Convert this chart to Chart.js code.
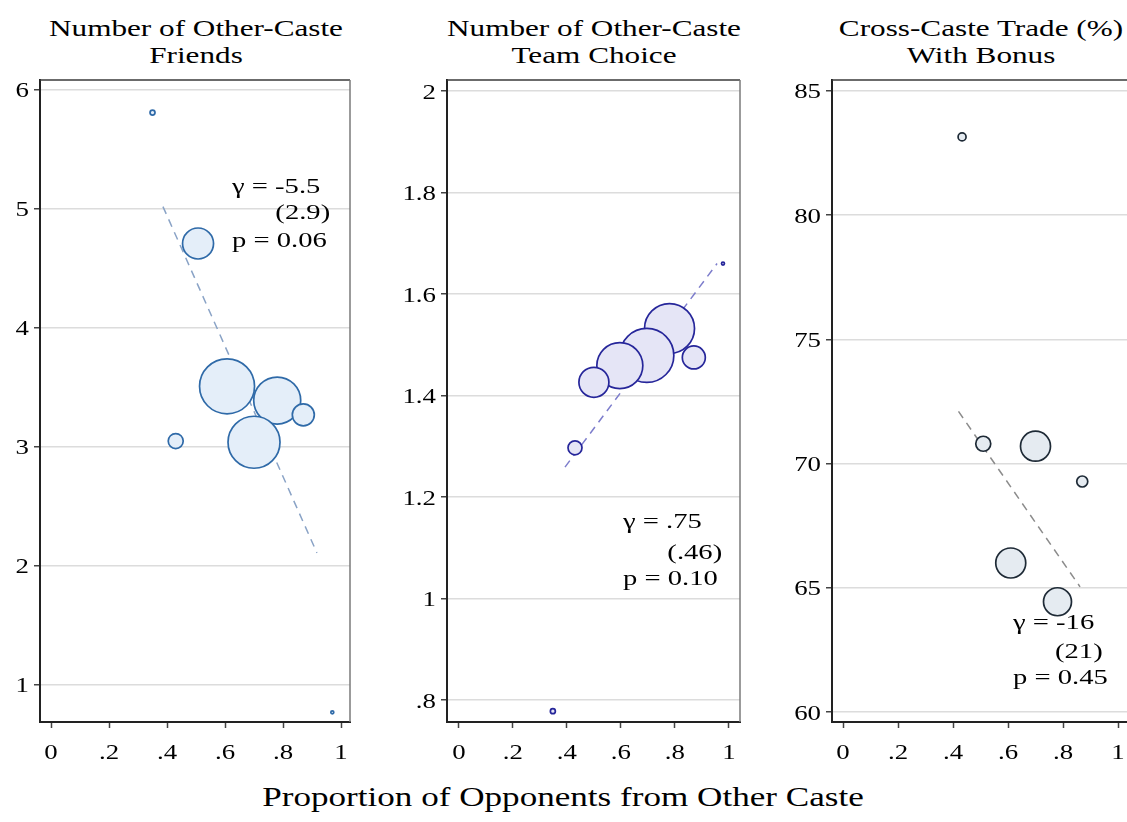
<!DOCTYPE html>
<html>
<head>
<meta charset="utf-8">
<script src="https://cdn.jsdelivr.net/npm/chart.js@4.4.0/dist/chart.umd.min.js"></script>
<style>
  html, body { margin: 0; padding: 0; background: #fff; }
  #wrap { position: relative; width: 1127px; height: 822px; overflow: hidden; background: #fff; }
  .panel { position: absolute; top: 70px; height: 697px; }
  .txt { position: absolute; font-family: "Liberation Serif", "Times New Roman", serif; color: #000; white-space: nowrap; line-height: 1; }
  .ttl { font-size: 24px; line-height: 27px; text-align: center; top: 15px; transform: translateX(-50%) scaleX(1.3); }
  .ann { font-size: 22px; transform-origin: left center; transform: scaleX(1.3); }
  .annR { font-size: 22px; transform-origin: right center; transform: scaleX(1.3); }
  .xlab { font-size: 27px; top: 784px; left: 563px; transform: translateX(-50%) scaleX(1.3); }
</style>
</head>
<body>
<div id="wrap">
  <div class="txt ttl" style="left:196px">Number of Other-Caste<br>Friends</div>
  <div class="txt ttl" style="left:594px">Number of Other-Caste<br>Team Choice</div>
  <div class="txt ttl" style="left:981px">Cross-Caste Trade (%)<br>With Bonus</div>

  <div class="panel" style="left:0;width:360px"><canvas id="chartFriends"></canvas></div>
  <div class="panel" style="left:385px;width:365px"><canvas id="chartTeam"></canvas></div>
  <div class="panel" style="left:772px;width:367px"><canvas id="chartTrade"></canvas></div>

  <div class="txt ann"  style="left:232px;top:175px">γ = -5.5</div>
  <div class="txt annR" style="right:797px;top:201px">(2.9)</div>
  <div class="txt ann"  style="left:232px;top:229px">p = 0.06</div>

  <div class="txt ann"  style="left:623px;top:510px">γ = .75</div>
  <div class="txt annR" style="right:405px;top:541px">(.46)</div>
  <div class="txt ann"  style="left:623px;top:567px">p = 0.10</div>

  <div class="txt ann"  style="left:1013px;top:611px">γ = -16</div>
  <div class="txt annR" style="right:24px;top:640px">(21)</div>
  <div class="txt ann"  style="left:1013px;top:666px">p = 0.45</div>

  <div class="txt xlab">Proportion of Opponents from Other Caste</div>
</div>

<script>
// ── Data ──
const xTicks = [0, 0.2, 0.4, 0.6, 0.8, 1];

// Panel 1: friends
const friendsX    = [0.35, 0.507, 0.607, 0.78, 0.87, 0.70, 0.43, 0.97];
const friendsY    = [5.81, 4.71, 3.51, 3.39, 3.27, 3.04, 3.05, 0.77];
const friendsSize = [2.5, 15.5, 27.5, 23.5, 11, 26, 7.5, 1.5];
const friendsFitX = [0.386, 0.917];
const friendsFitY = [5.02, 2.11];
const friendsTicks = [1, 2, 3, 4, 5, 6];

// Panel 2: team choice
const teamX    = [0.978, 0.78, 0.87, 0.696, 0.596, 0.50, 0.43, 0.348];
const teamY    = [1.66, 1.532, 1.475, 1.479, 1.459, 1.426, 1.297, 0.778];
const teamSize = [1.5, 25, 11.5, 27, 23, 15, 7, 2.5];
const teamFitX = [0.393, 0.956];
const teamFitY = [1.259, 1.66];
const teamTicks = [0.8, 1, 1.2, 1.4, 1.6, 1.8, 2];

// Panel 3: trade with bonus
const tradeX    = [0.433, 0.51, 0.70, 0.87, 0.61, 0.78];
const tradeY    = [83.15, 70.8, 70.7, 69.28, 66.0, 64.44];
const tradeSize = [4, 7.5, 15, 5.5, 15, 14];
const tradeFitX = [0.42, 0.862];
const tradeFitY = [72.1, 65.04];
const tradeTicks = [60, 65, 70, 75, 80, 85];

// ── Helpers ──
const STRETCH = 1.22;
function fmt(v) {
  return String(+v.toFixed(2)).replace(/^0\./, '.').replace(/^-0\./, '-.');
}
function zipPts(xs, ys, rs) {
  return xs.map((x, i) => rs ? { x, y: ys[i], r: rs[i] } : { x, y: ys[i] });
}
function stretchText(ctx, text, x, y, align) {
  ctx.save();
  ctx.translate(x, y);
  ctx.scale(STRETCH, 1);
  ctx.textAlign = align;
  ctx.fillText(text, 0, 0);
  ctx.restore();
}

// ── Plugins: top/right frame + stretched serif tick labels ──
const framePlugin = {
  id: 'frame',
  afterDatasetsDraw(chart) {
    const { ctx, chartArea: a } = chart;
    ctx.save();
    ctx.lineWidth = 1.5;
    ctx.strokeStyle = '#3a3a3a';
    ctx.beginPath(); ctx.moveTo(a.left, a.top); ctx.lineTo(a.right, a.top); ctx.stroke();
    ctx.strokeStyle = '#7a7a7a';
    ctx.beginPath(); ctx.moveTo(a.right, a.top); ctx.lineTo(a.right, a.bottom); ctx.stroke();
    ctx.restore();
  }
};
const tickLabelPlugin = {
  id: 'tickLabels',
  afterDraw(chart) {
    const { ctx, chartArea: a } = chart;
    const xs = chart.scales.x, ys = chart.scales.y;
    ctx.save();
    ctx.fillStyle = '#000';
    ctx.font = '22px "Liberation Serif", "Times New Roman", serif';
    ctx.textBaseline = 'alphabetic';
    xs.ticks.forEach(t => stretchText(ctx, fmt(t.value), xs.getPixelForValue(t.value), a.bottom + 37, 'center'));
    ys.ticks.forEach(t => stretchText(ctx, fmt(t.value), a.left - 11, ys.getPixelForValue(t.value) + 7.5, 'right'));
    ctx.restore();
  }
};

// ── Panel builder ──
function makePanel(canvasId, p) {
  return new Chart(document.getElementById(canvasId).getContext('2d'), {
    type: 'bubble',
    data: {
      datasets: [
        {
          type: 'line',
          data: zipPts(p.fitX, p.fitY),
          borderColor: p.lineColor,
          borderWidth: 1.5,
          borderDash: [8, 6],
          pointRadius: 0,
          fill: false,
          order: 2
        },
        {
          data: zipPts(p.x, p.y, p.size),
          backgroundColor: p.fill,
          borderColor: p.stroke,
          borderWidth: 1.7,
          order: 1
        }
      ]
    },
    options: {
      responsive: true,
      maintainAspectRatio: false,
      animation: false,
      events: [],
      layout: { autoPadding: false, padding: { top: 10, right: 10, left: 0, bottom: 0 } },
      plugins: { legend: { display: false }, tooltip: { enabled: false } },
      scales: {
        x: {
          type: 'linear',
          min: p.xMin, max: p.xMax,
          afterBuildTicks: s => { s.ticks = xTicks.map(v => ({ value: v })); },
          afterFit: s => { s.height = 45; },
          ticks: { display: false },
          grid: { drawOnChartArea: false, drawTicks: true, tickLength: 6, tickColor: '#444', tickWidth: 1.5 },
          border: { color: '#222', width: 2 }
        },
        y: {
          type: 'linear',
          min: p.yMin, max: p.yMax,
          afterBuildTicks: s => { s.ticks = p.yTicks.map(v => ({ value: v })); },
          afterFit: s => { s.width = p.yWidth; },
          ticks: { display: false },
          grid: { color: '#dcdcdc', lineWidth: 1.5, drawTicks: true, tickLength: 6, tickColor: '#444', tickWidth: 1.5 },
          border: { color: '#222', width: 2 }
        }
      }
    },
    plugins: [framePlugin, tickLabelPlugin]
  });
}

makePanel('chartFriends', {
  x: friendsX, y: friendsY, size: friendsSize, fitX: friendsFitX, fitY: friendsFitY, yTicks: friendsTicks,
  xMin: -0.038, xMax: 1.031, yMin: 0.689, yMax: 6.084, yWidth: 40,
  fill: '#e4eef9', stroke: '#2f6aa8', lineColor: '#8aa3c6'
});
makePanel('chartTeam', {
  x: teamX, y: teamY, size: teamSize, fitX: teamFitX, fitY: teamFitY, yTicks: teamTicks,
  xMin: -0.044, xMax: 1.041, yMin: 0.7567, yMax: 2.0217, yWidth: 62,
  fill: '#e5e5f6', stroke: '#26269a', lineColor: '#7d7dcc'
});
makePanel('chartTrade', {
  x: tradeX, y: tradeY, size: tradeSize, fitX: tradeFitX, fitY: tradeFitY, yTicks: tradeTicks,
  xMin: -0.04, xMax: 1.04, yMin: 59.6, yMax: 85.44, yWidth: 60,
  fill: '#e5ebf1', stroke: '#1e2a36', lineColor: '#8c8c8c'
});
</script>
</body>
</html>
